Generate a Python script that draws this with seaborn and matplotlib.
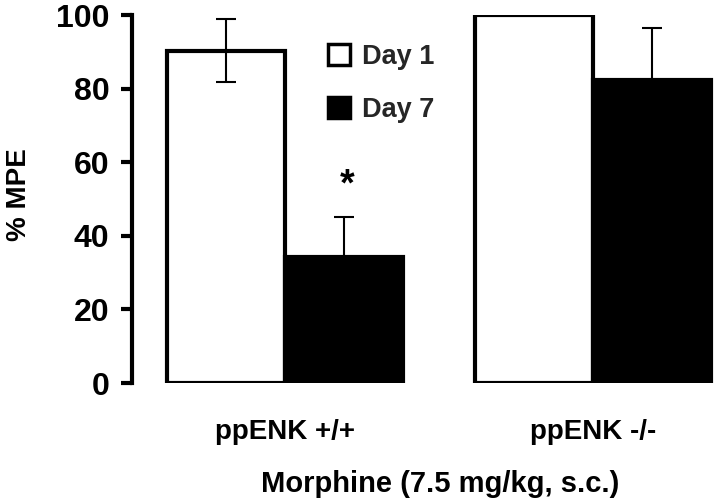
import matplotlib
matplotlib.use("Agg")
import matplotlib.pyplot as plt
import seaborn as sns
import pandas as pd
import numpy as np

genotypes = ["ppENK +/+", "ppENK -/-"]
days = ["Day 1", "Day 7"]
day1_values = [90.3, 100.0]
day7_values = [34.3, 82.3]
day1_sem = [8.6, 0.0]
day7_sem = [10.7, 14.1]

df = pd.DataFrame({
    "genotype": genotypes * 2,
    "day": [days[0]] * 2 + [days[1]] * 2,
    "mpe": day1_values + day7_values,
})

sns.set_theme(style="white")
plt.rcParams['font.family'] = ['Liberation Sans', 'DejaVu Sans']
plt.rcParams['font.weight'] = 'bold'

fig = plt.figure(figsize=(7.14, 5.04), dpi=100)
ax = fig.add_axes([0.1845, 0.240, 1.0 - 0.1845, 0.730])

sns.barplot(data=df, x="genotype", y="mpe", hue="day", order=genotypes,
            hue_order=days, palette=["white", "black"], edgecolor="black",
            linewidth=3, width=0.766, errorbar=None, ax=ax, zorder=2)

# error bars from bar patches
sems = {days[0]: day1_sem, days[1]: day7_sem}
vals = {days[0]: day1_values, days[1]: day7_values}
for container, d in zip(ax.containers, days):
    for bar, v, e in zip(container, vals[d], sems[d]):
        if e <= 0:
            continue
        cx = bar.get_x() + bar.get_width() / 2
        ax.errorbar(cx, v, yerr=e, fmt="none", ecolor="black", elinewidth=1.5,
                    capsize=7.5, capthick=1.5, zorder=1 if d == days[1] else 3)

# significance asterisk over Day 7 ppENK +/+
b = ax.containers[1][0]
ax.text(b.get_x() + b.get_width() / 2 + 0.01, 53.7, "*", ha="center", va="center",
        fontsize=27, fontweight="bold", color="black")

ax.set_ylim(0, 100)
ax.set_xlim(-0.498, 1.393)
ax.set_yticks([0, 20, 40, 60, 80, 100])
ax.tick_params(axis="y", length=8, width=3, labelsize=23, pad=8, left=True,
               color="black", labelcolor="black")
ax.tick_params(axis="x", length=0, labelsize=20, pad=26, labelcolor="black")
for lab in ax.get_xticklabels() + ax.get_yticklabels():
    lab.set_fontweight("bold")

for s in ["top", "right", "bottom"]:
    ax.spines[s].set_visible(False)
ax.spines["left"].set_linewidth(3)
ax.spines["left"].set_color("black")

ax.set_ylabel("% MPE", fontsize=20, fontweight="bold", color="black")
ax.yaxis.set_label_coords(-0.172, 0.513)
ax.set_xlabel("Morphine (7.5 mg/kg, s.c.)", fontsize=21, fontweight="bold",
              color="black")
ax.xaxis.set_label_coords(0.53, -0.235)

handles, labels = ax.get_legend_handles_labels()
for h in handles:
    h.set_linewidth(2.5)
ax.legend(handles, labels, loc="upper left", bbox_to_anchor=(0.305, 0.973),
          frameon=False, handlelength=0.8, handleheight=0.8,
          handletextpad=0.45, labelspacing=1.0, borderaxespad=0.3,
          prop={"weight": "bold", "size": 19.5})

fig.savefig("out.png", dpi=100)
